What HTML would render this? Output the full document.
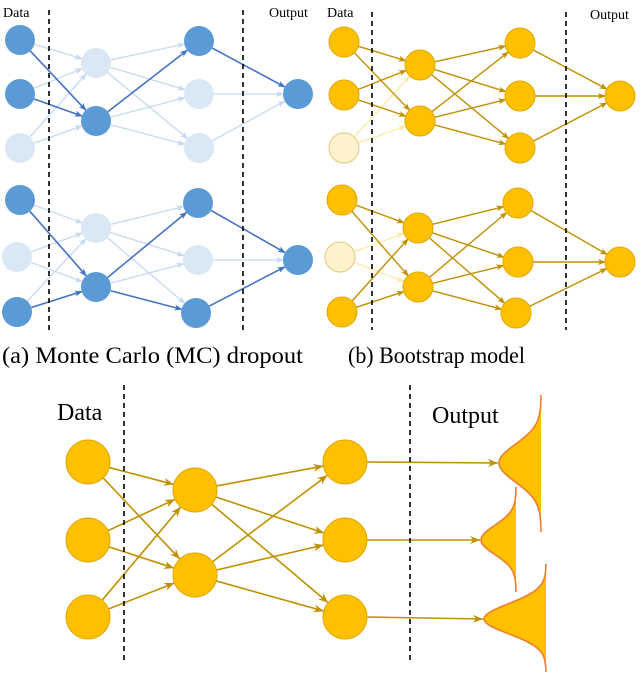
<!DOCTYPE html>
<html><head><meta charset="utf-8"><style>
html,body{margin:0;padding:0;background:#fff;}
svg{display:block;}
text{font-family:"Liberation Serif",serif;fill:#000;}
</style></head><body>
<svg id="s" width="640" height="674" viewBox="0 0 640 674" xmlns="http://www.w3.org/2000/svg">
<defs>
<marker id="ad" markerWidth="8" markerHeight="8" refX="7" refY="4" orient="auto" markerUnits="userSpaceOnUse"><path d="M0,1 L8,4 L0,7 L2,4 Z" fill="#4472c4"/></marker>
<marker id="al" markerWidth="8" markerHeight="8" refX="7" refY="4" orient="auto" markerUnits="userSpaceOnUse"><path d="M0,1 L8,4 L0,7 L2,4 Z" fill="#c5d9f1"/></marker>
<marker id="ao" markerWidth="8" markerHeight="8" refX="7" refY="4" orient="auto" markerUnits="userSpaceOnUse"><path d="M0,1 L8,4 L0,7 L2,4 Z" fill="#bf9000"/></marker>
<marker id="aol" markerWidth="8" markerHeight="8" refX="7" refY="4" orient="auto" markerUnits="userSpaceOnUse"><path d="M0,1 L8,4 L0,7 L2,4 Z" fill="#ffe9a8"/></marker>
<marker id="ab" markerWidth="11" markerHeight="10" refX="10" refY="5" orient="auto" markerUnits="userSpaceOnUse"><path d="M0,1 L10,5 L0,9 L3,5 Z" fill="#bf9000"/></marker>
</defs>
<g id="edges"></g><g id="nodes"></g>
<g stroke="#000" stroke-width="1.6" stroke-dasharray="5,4">
<line x1="49" y1="10" x2="49" y2="330"/><line x1="243" y1="10" x2="243" y2="330"/>
<line x1="372" y1="12" x2="372" y2="330"/><line x1="566" y1="12" x2="566" y2="330"/>
<line x1="124" y1="385" x2="124" y2="662"/><line x1="410" y1="385" x2="410" y2="662"/>
</g>
<text x="3" y="17" font-size="14">Data</text>
<text x="269" y="17" font-size="14">Output</text>
<text x="327" y="17" font-size="14">Data</text>
<text x="590" y="19" font-size="14">Output</text>
<text x="2" y="363" font-size="23" textLength="301" lengthAdjust="spacingAndGlyphs">(a) Monte Carlo (MC) dropout</text>
<text x="348" y="363" font-size="23" textLength="177" lengthAdjust="spacingAndGlyphs">(b) Bootstrap model</text>
<text x="57" y="420" font-size="24">Data</text>
<text x="432" y="423" font-size="24">Output</text>
<g id="gauss"></g>
</svg>
<script>
var NS="http://www.w3.org/2000/svg",E=document.getElementById("edges"),N=document.getElementById("nodes"),G=document.getElementById("gauss");
function el(p,t,a){var e=document.createElementNS(NS,t);for(var k in a)e.setAttribute(k,a[k]);p.appendChild(e);return e;}
function edge(a,b,r1,r2,col,mk,w){var dx=b[0]-a[0],dy=b[1]-a[1],L=Math.hypot(dx,dy);
el(E,"line",{x1:a[0]+dx/L*r1,y1:a[1]+dy/L*r1,x2:b[0]-dx/L*r2,y2:b[1]-dy/L*r2,stroke:col,"stroke-width":w,"marker-end":"url(#"+mk+")"});}
function node(p,r,f,s){el(N,"circle",{cx:p[0],cy:p[1],r:r,fill:f,stroke:s,"stroke-width":1});}
var DB="#5b9bd5",LB="#dae8f5";
function netA(ins,h1,h2,out,dIn,dH1,dH2,darkE){
 var all=[];
 ins.forEach(function(a,i){h1.forEach(function(b,j){all.push([a,b,"i"+i+"h"+j]);});});
 h1.forEach(function(a,i){h2.forEach(function(b,j){all.push([a,b,"h"+i+"k"+j]);});});
 h2.forEach(function(a,i){all.push([a,out,"k"+i+"o"]);});
 all.forEach(function(e){if(darkE.indexOf(e[2])<0)edge(e[0],e[1],15,15,"#c5d9f1","al",1.3);});
 all.forEach(function(e){if(darkE.indexOf(e[2])>=0)edge(e[0],e[1],15,15,"#4472c4","ad",1.6);});
 ins.forEach(function(p,i){node(p,15,dIn[i]?DB:LB,"none");});
 h1.forEach(function(p,i){node(p,15,dH1[i]?DB:LB,"none");});
 h2.forEach(function(p,i){node(p,15,dH2[i]?DB:LB,"none");});
 node(out,15,DB,"none");
}
netA([[20,40],[20,94],[20,148]],[[96,63],[96,121]],[[199,41],[199,94],[199,148]],[298,94],
 [1,1,0],[0,1],[1,0,0],["i0h1","i1h1","h1k0","k0o"]);
netA([[20,200],[17,257],[17,312]],[[96,228],[96,287]],[[198,203],[198,260],[196,313]],[298,260],
 [1,0,1],[0,1],[1,0,1],["i0h1","i2h1","h1k0","h1k2","k0o","k2o"]);
var OF="#ffc000",OS="#e0a800";
function netB(ins,h1,h2,out,lightIn){
 ins.forEach(function(a,i){h1.forEach(function(b){ if(i==lightIn)edge(a,b,15,15,"#ffe9a8","aol",1.3);});});
 ins.forEach(function(a,i){h1.forEach(function(b){ if(i!=lightIn)edge(a,b,15,15,"#bf9000","ao",1.4);});});
 h1.forEach(function(a){h2.forEach(function(b){edge(a,b,15,15,"#bf9000","ao",1.4);});});
 h2.forEach(function(a){edge(a,out,15,15,"#bf9000","ao",1.4);});
 ins.forEach(function(p,i){ if(i==lightIn)node(p,15,"#fff2cc","#e8c77a"); else node(p,15,OF,OS);});
 h1.concat(h2).forEach(function(p){node(p,15,OF,OS);});
 node(out,15,OF,OS);
}
netB([[344,42],[344,95],[344,148]],[[420,65],[420,121]],[[520,43],[520,96],[520,148]],[620,96],2);
netB([[342,200],[340,257],[342,312]],[[418,228],[418,287]],[[518,203],[518,262],[516,313]],[620,262],1);
var bi=[[88,462],[88,540],[88,617]],bh=[[195,490],[195,575]],bk=[[345,462],[345,540],[345,617]];
bi.forEach(function(a){bh.forEach(function(b){edge(a,b,22,22,"#bf9000","ab",1.6);});});
bh.forEach(function(a){bk.forEach(function(b){edge(a,b,22,22,"#bf9000","ab",1.6);});});
var tips=[[499,463],[481,540],[484,619]];
bk.forEach(function(a,i){var t=tips[i];el(E,"line",{x1:a[0]+22,y1:a[1],x2:t[0]-1,y2:t[1],stroke:"#bf9000","stroke-width":1.6,"marker-end":"url(#ab)"});});
bi.concat(bh,bk).forEach(function(p){node(p,22,OF,OS);});
[[499,463,541,395,532],[481,540,516,487,592],[484,619,546,564,672]].forEach(function(g){
 var tx=g[0],c=g[1],R=g[2],top=g[3],bot=g[4],A=R-tx,pts=[];
 var s1=(c-top)/3.6,s2=(bot-c)/3.6;
 for(var y=top;y<=bot;y+=1){var s=y<c?s1:s2;var x=R-A*Math.exp(-(y-c)*(y-c)/(2*s*s));pts.push([x,y]);}
 var d="M"+pts.map(function(p){return p[0].toFixed(1)+","+p[1];}).join(" L");
 el(G,"path",{d:d+" L"+R+","+bot+" L"+R+","+top+"Z",fill:"#ffc000",stroke:"none"});
 el(G,"path",{d:d,fill:"none",stroke:"#ed7d31","stroke-width":1.6});
});
</script>
</body></html>
